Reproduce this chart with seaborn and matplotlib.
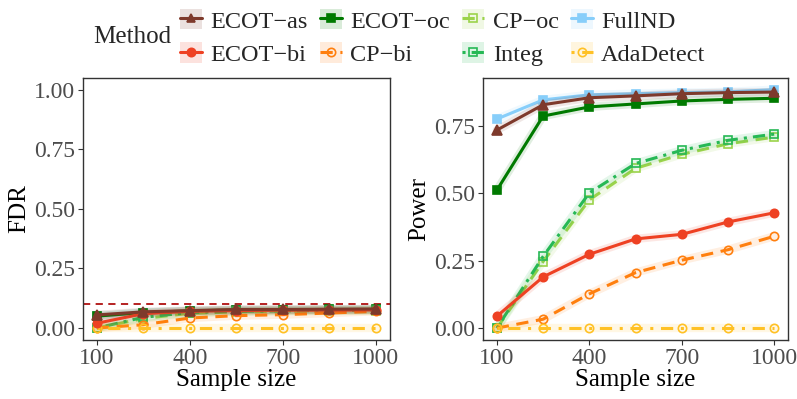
import numpy as np
import pandas as pd
import seaborn as sns
import matplotlib.pyplot as plt
from matplotlib.lines import Line2D
from matplotlib.patches import Patch

sns.set_theme(style="white")
plt.rcParams['font.family'] = ['Liberation Serif', 'DejaVu Serif']

# data
sizes = [100, 250, 400, 550, 700, 850, 1000]
methods = ['ECOT\u2212as', 'ECOT\u2212bi', 'ECOT\u2212oc', 'CP\u2212bi', 'CP\u2212oc', 'Integ', 'FullND', 'AdaDetect']

fdr_ecot_as = [0.055, 0.068, 0.073, 0.078, 0.078, 0.079, 0.080]
fdr_ecot_bi = [0.020, 0.060, 0.070, 0.073, 0.075, 0.075, 0.076]
fdr_ecot_oc = [0.050, 0.065, 0.072, 0.076, 0.077, 0.078, 0.078]
fdr_cp_bi = [0.000, 0.014, 0.042, 0.052, 0.056, 0.063, 0.070]
fdr_cp_oc = [0.000, 0.040, 0.062, 0.068, 0.070, 0.072, 0.073]
fdr_integ = [0.000, 0.045, 0.065, 0.070, 0.072, 0.074, 0.075]
fdr_fullnd = [0.050, 0.064, 0.071, 0.075, 0.076, 0.077, 0.077]
fdr_adadetect = [0.000, 0.000, 0.000, 0.000, 0.000, 0.000, 0.000]

pow_ecot_as = [0.735, 0.829, 0.855, 0.862, 0.870, 0.874, 0.876]
pow_ecot_bi = [0.044, 0.190, 0.274, 0.331, 0.348, 0.394, 0.428]
pow_ecot_oc = [0.512, 0.787, 0.821, 0.832, 0.843, 0.849, 0.853]
pow_cp_bi = [0.000, 0.033, 0.127, 0.206, 0.252, 0.291, 0.341]
pow_cp_oc = [0.000, 0.247, 0.476, 0.593, 0.645, 0.684, 0.709]
pow_integ = [0.000, 0.266, 0.502, 0.611, 0.660, 0.697, 0.720]
pow_fullnd = [0.776, 0.847, 0.866, 0.870, 0.874, 0.877, 0.885]
pow_adadetect = [0.000, 0.000, 0.000, 0.000, 0.000, 0.000, 0.000]

fdr = [fdr_ecot_as, fdr_ecot_bi, fdr_ecot_oc, fdr_cp_bi, fdr_cp_oc, fdr_integ, fdr_fullnd, fdr_adadetect]
power = [pow_ecot_as, pow_ecot_bi, pow_ecot_oc, pow_cp_bi, pow_cp_oc, pow_integ, pow_fullnd, pow_adadetect]

rows = []
for m, f, p in zip(methods, fdr, power):
    for n, a, b in zip(sizes, f, p):
        rows.append({'Method': m, 'n': n, 'FDR': a, 'Power': b})
df = pd.DataFrame(rows)

# styles (same order as methods)
colors = ['#7E3A2C', '#EE4123', '#007A00', '#FF7F0E', '#9BD34B', '#26B855', '#87CEFA', '#FFC125']
markers = ['^', 'o', 's', 'o', 's', 's', 's', 'o']
filled = [True, True, True, False, False, False, True, False]
lstyles = ['-', '-', '-', (0, (4, 2.5)), (0, (4, 2.5)), (0, (1, 2, 4, 2)), '-', (0, (1, 2.5, 4, 2.5))]
style = {m: (c, mk, fl, ls) for m, c, mk, fl, ls in zip(methods, colors, markers, filled, lstyles)}
draw_order = [6, 2, 4, 5, 3, 7, 1, 0]

fig = plt.figure(figsize=(7.97, 3.99), dpi=100)
ax1 = fig.add_axes([0.104, 0.148, 0.385, 0.657])
ax2 = fig.add_axes([0.606, 0.148, 0.383, 0.657])

for ax, col in [(ax1, 'FDR'), (ax2, 'Power')]:
    for i in draw_order:
        m = methods[i]
        c, mk, fl, ls = style[m]
        d = df[df['Method'] == m]
        # soft band behind each line
        sns.lineplot(data=d, x='n', y=col, ax=ax, color=c, lw=6, alpha=0.12, solid_capstyle='round')
        sns.lineplot(data=d, x='n', y=col, ax=ax, color=c, lw=2.2, linestyle=ls,
                     marker=mk, markersize=7 if mk == '^' else 6,
                     markerfacecolor=c if fl else 'none', markeredgecolor=c,
                     markeredgewidth=1.2)
    ax.set_xlim(55, 1045)
    ax.set_xticks([100, 400, 700, 1000])
    ax.set_xlabel('Sample size', fontsize=18, color='black', labelpad=0)
    ax.set_ylabel(col, fontsize=18, color='black', labelpad=3)
    ax.tick_params(axis='both', labelsize=17, labelcolor='#4D4D4D', length=3.5, width=0.8,
                   color='#333333', left=True, bottom=True, pad=2)
    for s in ax.spines.values():
        s.set_color('#333333')
        s.set_linewidth(1.0)
    ax.grid(False)

ax1.axhline(0.1, color='#B01010', ls=(0, (4, 3)), lw=1.3, zorder=1)
ax1.set_ylim(-0.05, 1.05)
ax1.set_yticks([0, 0.25, 0.5, 0.75, 1.0])
ax1.set_yticklabels(['0.00', '0.25', '0.50', '0.75', '1.00'])
ax2.set_ylim(-0.044, 0.929)
ax2.set_yticks([0, 0.25, 0.5, 0.75])
ax2.set_yticklabels(['0.00', '0.25', '0.50', '0.75'])

# legend
handles = []
for m in methods:
    c, mk, fl, ls = style[m]
    line = Line2D([], [], color=c, lw=2.2, linestyle=ls, marker=mk, markersize=6,
                  markerfacecolor=c if fl else 'none', markeredgecolor=c, markeredgewidth=1.2)
    patch = Patch(facecolor=c, alpha=0.15, edgecolor='none')
    handles.append((patch, line))
fig.legend(handles, methods, loc='center left', bbox_to_anchor=(0.226, 0.906), ncol=4,
           frameon=False, fontsize=17.5, handlelength=0.9, handleheight=0.9, handletextpad=0.35,
           columnspacing=0.5, labelspacing=0.4, borderpad=0, borderaxespad=0)
fig.text(0.117, 0.908, 'Method', fontsize=18, va='center', ha='left')

plt.savefig('out.png', dpi=100)
